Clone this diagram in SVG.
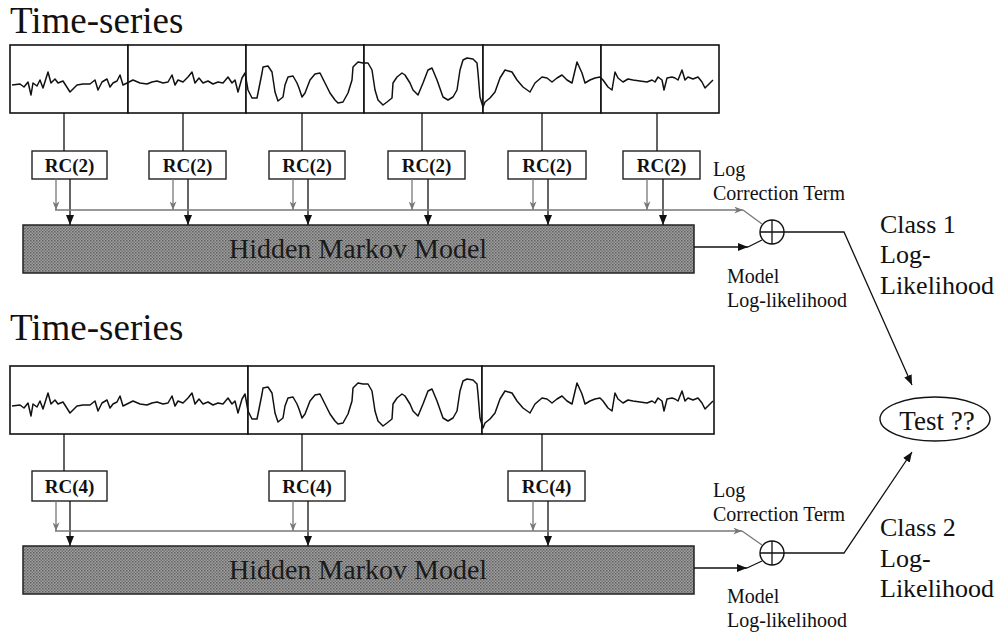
<svg xmlns="http://www.w3.org/2000/svg" xmlns:xlink="http://www.w3.org/1999/xlink" width="995" height="632" viewBox="0 0 995 632">
  <defs>
    <style>
      .serif { font-family: "Liberation Serif", "Times New Roman", serif; fill: #111; }
      .title { font-size: 37px; }
      .rc-label { font-size: 19px; font-weight: bold; text-anchor: middle; }
      .hmm-label { font-size: 28px; text-anchor: middle; fill: #1a1a1a; }
      .small { font-size: 20px; }
      .big { font-size: 26px; }
      .panel { fill: #fff; stroke: #111; stroke-width: 1.6; }
      .rc { fill: #fff; stroke: #222; stroke-width: 1.4; }
      .hmm { fill: url(#halftone); stroke: #222; stroke-width: 1.5; }
      .wave { fill: none; stroke: #111; stroke-width: 1.5; stroke-linejoin: round; }
      .link { fill: none; stroke: #111; stroke-width: 1.3; }
      .corr { fill: none; stroke: #777; stroke-width: 1.3; }
      .sum { fill: #fff; stroke: #111; stroke-width: 1.4; }
    </style>
    <pattern id="halftone" width="3" height="3" patternUnits="userSpaceOnUse">
      <rect width="3" height="3" fill="#a0a0a0"/>
      <rect width="1.5" height="1.5" fill="#606060"/>
      <rect x="1.5" y="1.5" width="1.5" height="1.5" fill="#747474"/>
    </pattern>
    <marker id="arrowBlack" viewBox="0 0 10 8" refX="10" refY="4" markerWidth="10" markerHeight="8" markerUnits="userSpaceOnUse" orient="auto">
      <path d="M0,0 L10,4 L0,8 Z" fill="#111"/>
    </marker>
    <marker id="arrowGray" viewBox="0 0 10 8" refX="10" refY="4" markerWidth="9" markerHeight="7" markerUnits="userSpaceOnUse" orient="auto">
      <path d="M0,0 L10,4 L0,8 L3,4 Z" fill="#777"/>
    </marker>
    <!-- sampled time series, drawn once and reused for both rows -->
    <path id="wave" class="wave" d="M12,85 L20,84 L24,87 L28,82 L31,95 L33,83 L37,86 L40,80 L43,88 L48,72 L51,83 L55,79 L58,83 L63,81 L70,92 L77,85 L83,84 L90,84 L95,80 L98,90 L102,82 L107,79 L110,87 L113,83 L117,81 L120,75 L123,85 L127,83 L133,80 L140,83 L147,84 L152,82 L157,81 L163,83 L168,82 L172,75 L175,85 L178,80 L183,82 L188,77 L192,72 L195,83 L199,78 L203,83 L208,81 L213,84 L218,82 L223,83 L228,77 L232,83 L235,80 L238,92 L242,78 L245,73 L248,90 L252,98 L257,98 L262,73 L263,67 L268,66 L272,72 L275,92 L278,101 L283,97 L285,85 L288,77 L293,76 L297,83 L299,88 L302,97 L305,93 L310,80 L315,74 L320,73 L325,83 L330,93 L335,100 L338,103 L343,102 L348,93 L352,80 L353,67 L358,62 L363,63 L368,63 L372,70 L375,90 L378,100 L383,105 L387,102 L392,98 L393,83 L397,77 L402,73 L405,75 L410,83 L413,90 L418,95 L423,83 L428,70 L432,68 L437,80 L443,97 L448,100 L453,97 L457,90 L460,70 L463,60 L467,58 L473,59 L477,63 L478,73 L480,97 L483,107 L485,102 L490,98 L495,92 L500,78 L505,70 L512,72 L517,80 L523,87 L530,92 L535,83 L542,77 L547,78 L552,82 L557,78 L562,75 L567,80 L572,83 L577,62 L582,73 L585,83 L590,80 L595,78 L600,77 L603,80 L608,87 L612,90 L615,72 L618,78 L623,82 L628,79 L633,80 L640,81 L647,82 L652,80 L655,82 L658,77 L662,80 L664,90 L667,78 L672,77 L675,78 L678,80 L682,70 L685,80 L688,77 L693,79 L698,77 L702,82 L705,88 L708,85 L713,80"/>
  </defs>

  <rect width="995" height="632" fill="#fff"/>

  <!-- ===== Class 1 model ===== -->
  <text id="title-top" class="serif title" x="10" y="33">Time-series</text>

  <g id="series-top">
    <rect class="panel" x="10" y="45" width="118" height="68"/>
    <rect class="panel" x="128" y="45" width="118" height="68"/>
    <rect class="panel" x="246" y="45" width="118" height="68"/>
    <rect class="panel" x="364" y="45" width="119" height="68"/>
    <rect class="panel" x="483" y="45" width="118" height="68"/>
    <rect class="panel" x="601" y="45" width="118" height="68"/>
    <use xlink:href="#wave"/>
  </g>

  <g id="rc2-1"><rect class="rc" x="32" y="151" width="75" height="28"/><text class="serif rc-label" x="69.5" y="172">RC(2)</text></g>
  <g id="rc2-2"><rect class="rc" x="149" y="151" width="77" height="28"/><text class="serif rc-label" x="187.5" y="172">RC(2)</text></g>
  <g id="rc2-3"><rect class="rc" x="269" y="151" width="76" height="28"/><text class="serif rc-label" x="307" y="172">RC(2)</text></g>
  <g id="rc2-4"><rect class="rc" x="388" y="151" width="77" height="28"/><text class="serif rc-label" x="426.5" y="172">RC(2)</text></g>
  <g id="rc2-5"><rect class="rc" x="508" y="151" width="78" height="28"/><text class="serif rc-label" x="547" y="172">RC(2)</text></g>
  <g id="rc2-6"><rect class="rc" x="623" y="151" width="77" height="28"/><text class="serif rc-label" x="661.5" y="172">RC(2)</text></g>

  <g id="hmm-top">
    <rect class="hmm" x="23" y="225" width="671" height="48"/>
    <text class="serif hmm-label" x="358" y="258">Hidden Markov Model</text>
  </g>

  <g id="sum-top">
    <circle class="sum" cx="772" cy="232" r="12"/>
    <path class="link" d="M760,232 H784 M772,220 V244"/>
  </g>

  <g id="labels-top">
    <text class="serif small" x="713" y="176">Log</text>
    <text class="serif small" x="713" y="200">Correction Term</text>
    <text class="serif small" x="727" y="283">Model</text>
    <text class="serif small" x="727" y="307">Log-likelihood</text>
    <text class="serif big" x="880" y="233">Class 1</text>
    <text class="serif big" x="880" y="263">Log-</text>
    <text class="serif big" x="880" y="294">Likelihood</text>
  </g>

  <!-- ===== Class 2 model ===== -->
  <text id="title-bottom" class="serif title" x="10" y="340">Time-series</text>

  <g id="series-bottom">
    <rect class="panel" x="10" y="366" width="238" height="68"/>
    <rect class="panel" x="248" y="366" width="234" height="68"/>
    <rect class="panel" x="482" y="366" width="232" height="68"/>
    <use xlink:href="#wave" transform="translate(0,321)"/>
  </g>

  <g id="rc4-1"><rect class="rc" x="32" y="471" width="75" height="30"/><text class="serif rc-label" x="69.5" y="493">RC(4)</text></g>
  <g id="rc4-2"><rect class="rc" x="269" y="471" width="76" height="30"/><text class="serif rc-label" x="307" y="493">RC(4)</text></g>
  <g id="rc4-3"><rect class="rc" x="508" y="471" width="77" height="30"/><text class="serif rc-label" x="546.5" y="493">RC(4)</text></g>

  <g id="hmm-bottom">
    <rect class="hmm" x="23" y="546" width="671" height="48"/>
    <text class="serif hmm-label" x="358" y="579">Hidden Markov Model</text>
  </g>

  <g id="sum-bottom">
    <circle class="sum" cx="772" cy="553" r="12"/>
    <path class="link" d="M760,553 H784 M772,541 V565"/>
  </g>

  <g id="labels-bottom">
    <text class="serif small" x="713" y="497">Log</text>
    <text class="serif small" x="713" y="521">Correction Term</text>
    <text class="serif small" x="727" y="603">Model</text>
    <text class="serif small" x="727" y="627">Log-likelihood</text>
    <text class="serif big" x="880" y="536">Class 2</text>
    <text class="serif big" x="880" y="567">Log-</text>
    <text class="serif big" x="880" y="597">Likelihood</text>
  </g>

  <g id="test">
    <ellipse cx="935" cy="419" rx="55" ry="22" fill="#fff" stroke="#111" stroke-width="1.4"/>
    <text class="serif" x="937" y="430" font-size="27" text-anchor="middle">Test ??</text>
  </g>

  <!-- ===== connectors ===== -->
  <g id="connectors">
    <!-- series segments to RC(2) blocks -->
    <path class="link" d="M64,113 V151 M183,113 V151 M302,113 V151 M422,113 V151 M542,113 V151 M657,113 V151"/>
    <!-- correction terms onto the shared bus -->
    <g class="corr" marker-end="url(#arrowGray)">
      <path d="M56,179 V210"/><path d="M173,179 V210"/><path d="M293,179 V210"/>
      <path d="M412,179 V210"/><path d="M533,179 V210"/><path d="M647,179 V210"/>
    </g>
    <!-- coefficients into the HMM -->
    <g class="link" marker-end="url(#arrowBlack)">
      <path d="M70,179 V225"/><path d="M188,179 V225"/><path d="M308,179 V225"/>
      <path d="M428,179 V225"/><path d="M548,179 V225"/><path d="M663,179 V225"/>
    </g>
    <path class="corr" d="M55,210 H743" marker-end="url(#arrowGray)"/>
    <path class="corr" d="M743,210 L762,224"/>
    <path class="link" d="M694,247 H748" marker-end="url(#arrowBlack)"/>
    <path class="link" d="M748,247 L762,240"/>
    <path class="link" d="M784,232 H844 L912,385" marker-end="url(#arrowBlack)"/>

    <!-- series segments to RC(4) blocks -->
    <path class="link" d="M64,434 V471 M302,434 V471 M542,434 V471"/>
    <g class="corr" marker-end="url(#arrowGray)">
      <path d="M56,501 V531"/><path d="M293,501 V531"/><path d="M533,501 V531"/>
    </g>
    <g class="link" marker-end="url(#arrowBlack)">
      <path d="M70,501 V546"/><path d="M308,501 V546"/><path d="M548,501 V546"/>
    </g>
    <path class="corr" d="M55,531 H742" marker-end="url(#arrowGray)"/>
    <path class="corr" d="M742,531 L762,545"/>
    <path class="link" d="M694,568 H747" marker-end="url(#arrowBlack)"/>
    <path class="link" d="M747,568 L762,561"/>
    <path class="link" d="M784,553 H844 L912,452" marker-end="url(#arrowBlack)"/>
  </g>
</svg>
